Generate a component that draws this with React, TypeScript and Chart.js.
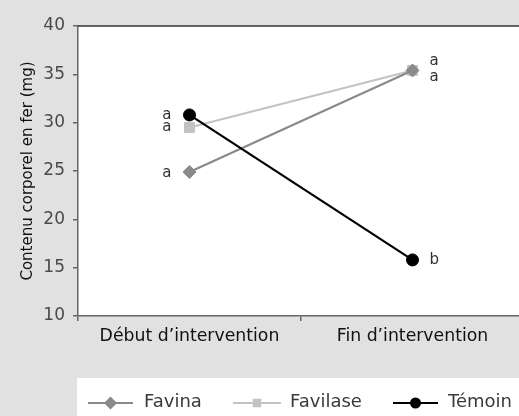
import React, { useEffect, useRef } from "react";
import { Chart, registerables } from "chart.js";
Chart.register(...registerables);

const categories = ["Début d\u2019intervention", "Fin d\u2019intervention"];
const seriesNames = ["Favina", "Favilase", "Témoin"];
const favina = [24.9, 35.4];
const favilase = [29.5, 35.4];
const temoin = [30.8, 15.8];
const favinaLetters = ["a", "a"];
const favilaseLetters = ["a", "a"];
const temoinLetters = ["a", "b"];
const yMin = 10;
const yMax = 40;
const yStep = 5;
const yTitle = "Contenu corporel en fer (mg)";

const FONT = "'DejaVu Sans'";
const colors = ["#8a8a8a", "#c3c3c3", "#000000"];
const styles = ["rectRot", "rect", "circle"];
const radii = [6.5, 7, 6];

const bgPlugin = {
  id: "bgPlugin",
  beforeDraw(chart: any) {
    const { ctx, chartArea, width, height } = chart;
    ctx.save();
    ctx.fillStyle = "#e1e1e1";
    ctx.fillRect(0, 0, width, height);
    ctx.fillStyle = "#ffffff";
    ctx.fillRect(chartArea.left, chartArea.top, chartArea.right - chartArea.left, chartArea.bottom - chartArea.top);
    ctx.fillRect(77, 378, width - 77, height - 378);
    ctx.restore();
  },
  afterDatasetsDraw(chart: any) {
    const { ctx, chartArea } = chart;
    ctx.save();
    ctx.strokeStyle = "#333333";
    ctx.lineWidth = 1.5;
    ctx.beginPath();
    ctx.moveTo(chartArea.left, chartArea.top);
    ctx.lineTo(chartArea.right, chartArea.top);
    ctx.stroke();
    const letters = [favinaLetters, favilaseLetters, temoinLetters];
    const finDy = [7, -9, 0];
    const debDy = [1, 0, 0];
    ctx.font = `15px ${FONT}`;
    ctx.fillStyle = "#333333";
    ctx.textBaseline = "middle";
    chart.data.datasets.forEach((ds: any, i: number) => {
      const meta = chart.getDatasetMeta(i);
      meta.data.forEach((pt: any, j: number) => {
        const txt = letters[i][j];
        if (j === 0) {
          ctx.textAlign = "right";
          ctx.fillText(txt, pt.x - 18, pt.y + debDy[i]);
        } else {
          ctx.textAlign = "left";
          ctx.fillText(txt, pt.x + 17, pt.y + finDy[i]);
        }
      });
    });
    ctx.restore();
  },
  afterDraw(chart: any) {
    const { ctx } = chart;
    ctx.save();
    const y = 403;
    const items = [
      { x0: 88, x1: 133, tx: 144 },
      { x0: 233, x1: 281, tx: 290 },
      { x0: 393, x1: 438, tx: 448 },
    ];
    const legendRadii = [6.5, 6, 5.5];
    items.forEach((it, i) => {
      ctx.strokeStyle = colors[i];
      ctx.fillStyle = colors[i];
      ctx.lineWidth = 2;
      ctx.beginPath();
      ctx.moveTo(it.x0, y);
      ctx.lineTo(it.x1, y);
      ctx.stroke();
      const cx = (it.x0 + it.x1) / 2;
      const r = legendRadii[i];
      ctx.beginPath();
      if (styles[i] === "circle") {
        ctx.arc(cx, y, r, 0, Math.PI * 2);
      } else if (styles[i] === "rect") {
        const s = r * Math.SQRT1_2;
        ctx.rect(cx - s, y - s, 2 * s, 2 * s);
      } else {
        ctx.moveTo(cx - r, y);
        ctx.lineTo(cx, y - r);
        ctx.lineTo(cx + r, y);
        ctx.lineTo(cx, y + r);
        ctx.closePath();
      }
      ctx.fill();
      ctx.fillStyle = "#3a3a3a";
      ctx.font = `18px ${FONT}`;
      ctx.textAlign = "left";
      ctx.textBaseline = "middle";
      ctx.fillText(seriesNames[i], it.tx, y - 1);
    });
    ctx.restore();
  },
};

export default function App() {
  const ref = useRef<HTMLCanvasElement>(null);
  useEffect(() => {
    document.body.style.margin = "0";
    const canvas = ref.current!;
    const dataSeries = [favina, favilase, temoin];
    const chart = new Chart(canvas, {
      type: "line",
      data: {
        labels: categories,
        datasets: dataSeries.map((d, i) => ({
          label: seriesNames[i],
          data: d,
          borderColor: colors[i],
          backgroundColor: colors[i],
          borderWidth: 2.2,
          pointStyle: styles[i] as any,
          pointRadius: radii[i],
          pointBorderWidth: 1,
          pointBackgroundColor: colors[i],
          pointBorderColor: colors[i],
          order: i === 2 ? 0 : i + 1,
          tension: 0,
        })),
      },
      options: {
        responsive: false,
        animation: false,
        events: [],
        layout: { padding: { top: 26, left: 0, right: 0, bottom: 0 } },
        plugins: { legend: { display: false }, tooltip: { enabled: false } },
        scales: {
          x: {
            type: "category",
            offset: true,
            grid: {
              display: true,
              offset: true,
              drawOnChartArea: false,
              drawTicks: true,
              tickLength: 5,
              color: "#666666",
              lineWidth: 1.5,
            },
            border: { display: true, color: "#666666", width: 1.5 },
            ticks: { color: "#111111", font: { family: FONT, size: 17.3 }, padding: 5, maxRotation: 0 },
            afterFit(scale: any) {
              scale.height = 100;
              scale.paddingLeft = 0;
              scale.paddingRight = 0;
            },
          },
          y: {
            min: yMin,
            max: yMax,
            ticks: { stepSize: yStep, color: "#4a4a4a", font: { family: FONT, size: 17 }, padding: 8 },
            grid: {
              display: true,
              drawOnChartArea: false,
              drawTicks: true,
              tickLength: 5,
              color: "#666666",
              lineWidth: 1.5,
            },
            border: { display: true, color: "#666666", width: 1.5 },
            title: {
              display: true,
              text: yTitle,
              color: "#111111",
              font: { family: FONT, size: 15 },
              padding: { top: 19, bottom: 0 },
            },
            afterFit(scale: any) {
              scale.width = 78;
            },
          },
        },
      },
      plugins: [bgPlugin],
    } as any);
    return () => chart.destroy();
  }, []);
  return (
    <div style={{ width: 519, height: 416, overflow: "hidden", position: "relative", background: "#e1e1e1" }}>
      <canvas ref={ref} width={532} height={416} style={{ display: "block", width: 532, height: 416 }} />
    </div>
  );
}
